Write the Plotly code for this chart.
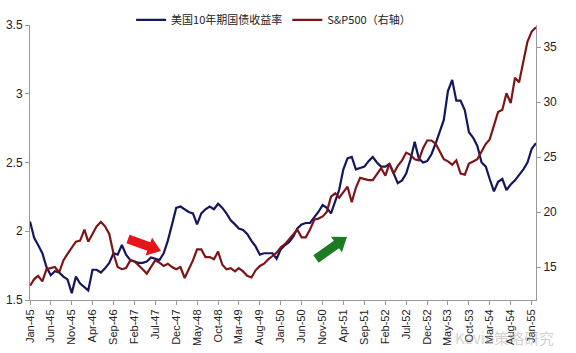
import math
import pandas as pd
import plotly.graph_objects as go

# Monthly data Jan-1945 .. Feb-1955
months = pd.date_range("1945-01-01", periods=122, freq="MS")

yield_10y = [
    2.07, 1.95, 1.90, 1.84, 1.74, 1.68, 1.71, 1.70, 1.67, 1.65,
    1.55, 1.67, 1.62, 1.59, 1.57, 1.72, 1.72, 1.70, 1.73, 1.77,
    1.84, 1.83, 1.90, 1.83, 1.79, 1.78, 1.77, 1.77, 1.78, 1.81,
    1.80, 1.79, 1.84, 1.93, 2.05, 2.17, 2.18, 2.16, 2.14, 2.13,
    2.05, 2.13, 2.16, 2.18, 2.16, 2.20, 2.17, 2.13, 2.08, 2.05,
    2.02, 2.01, 1.98, 1.93, 1.89, 1.83, 1.84, 1.84, 1.84, 1.80,
    1.87, 1.90, 1.92, 1.96, 2.02, 2.05, 2.06, 2.06, 2.10, 2.14,
    2.19, 2.17, 2.13, 2.22, 2.30, 2.45, 2.53, 2.54, 2.45, 2.46,
    2.47, 2.51, 2.54, 2.50, 2.47, 2.47, 2.49, 2.42, 2.35, 2.37,
    2.42, 2.52, 2.65, 2.53, 2.50, 2.51, 2.56, 2.64, 2.72, 2.81,
    3.02, 3.10, 2.95, 2.95, 2.88, 2.72, 2.68, 2.62, 2.50, 2.47,
    2.38, 2.29, 2.36, 2.38, 2.30, 2.34, 2.37, 2.41, 2.45, 2.50,
    2.60, 2.64,
]

sp500 = [
    13.3, 13.9, 14.2, 13.7, 14.8, 14.9, 15.0, 14.5, 15.6, 16.2,
    16.8, 17.3, 17.4, 18.4, 17.3, 18.0, 18.7, 19.1, 18.7, 18.0,
    16.2, 15.0, 14.8, 14.9, 15.6, 15.5, 15.2, 14.8, 14.4, 15.0,
    15.6, 15.4, 15.1, 15.3, 15.0, 14.8, 15.0, 14.0, 14.8, 15.6,
    16.6, 16.6, 15.9, 15.9, 15.7, 16.4, 15.2, 14.8, 14.9, 14.6,
    14.9, 14.6, 14.2, 14.05, 14.7, 15.1, 15.3, 15.7, 16.0, 16.3,
    16.8, 17.1, 17.5, 18.0, 18.4, 17.7, 17.7, 18.4, 19.3, 19.4,
    19.6, 20.0, 21.4, 21.7, 21.3, 21.8, 22.3, 20.9, 22.2, 23.1,
    23.0, 22.9, 22.9, 23.5, 24.0, 23.3, 24.4, 23.5, 24.2, 24.7,
    25.4, 25.2, 24.8, 24.7, 25.8, 26.5, 26.5, 26.2, 25.6, 24.8,
    24.6, 24.3, 24.7, 23.5, 23.4, 24.4, 24.6, 24.8, 25.5, 26.2,
    26.6, 27.8, 29.1, 29.3, 30.8, 29.9, 32.2, 31.8, 33.8, 35.5,
    36.4, 36.8,
]

tick_dates = months[::5]
tick_labels = [d.strftime("%b-%y") for d in tick_dates]

name_yield = "美国10年期国债收益率"
name_sp = "S&P500（右轴）"

# Layout geometry (pixels)
W, H = 576, 353
ML, MR, MT, MB = 30, 40, 25, 53
PW, PH = W - ML - MR, H - MT - MB

fig = go.Figure()
fig.add_trace(go.Scatter(x=months, y=yield_10y, name=name_yield, mode="lines",
                         line=dict(color="#16165e", width=2.2)))
fig.add_trace(go.Scatter(x=months, y=sp500, name=name_sp, mode="lines", yaxis="y2",
                         line=dict(color="#7d1517", width=2.2)))


def to_paper(px, py):
    return (px - ML) / PW, (H - MB - py) / PH


def block_arrow(tail, tip, bw, hw, hl, color):
    x0, y0 = tail
    x1, y1 = tip
    dx, dy = x1 - x0, y1 - y0
    L = math.hypot(dx, dy)
    ux, uy = dx / L, dy / L
    nx, ny = -uy, ux
    bx, by = x1 - ux * hl, y1 - uy * hl
    pts = [
        (x0 + nx * bw, y0 + ny * bw),
        (bx + nx * bw, by + ny * bw),
        (bx + nx * hw, by + ny * hw),
        (x1, y1),
        (bx - nx * hw, by - ny * hw),
        (bx - nx * bw, by - ny * bw),
        (x0 - nx * bw, y0 - ny * bw),
    ]
    path = ""
    for i, (px, py) in enumerate(pts):
        X, Y = to_paper(px, py)
        path += ("M" if i == 0 else "L") + f"{X:.4f},{Y:.4f} "
    path += "Z"
    return dict(type="path", xref="paper", yref="paper", path=path,
                fillcolor=color, line=dict(width=0), layer="above")


shapes = [
    block_arrow((128, 239), (161, 251), 4.5, 9.5, 13, "#e8141b"),
    block_arrow((316, 259), (347, 237), 4.5, 9.5, 13, "#1c7a22"),
]

axis_font = dict(family="Liberation Sans, Arial, sans-serif", size=12, color="#222")

fig.update_layout(
    width=W, height=H,
    margin=dict(l=ML, r=MR, t=MT, b=MB, pad=0, autoexpand=False),
    paper_bgcolor="white", plot_bgcolor="white",
    showlegend=True,
    legend=dict(orientation="h", x=0.475, xanchor="center", xref="container",
                y=0.985, yanchor="top", yref="container",
                font=dict(family="Noto Sans CJK SC, sans-serif", size=11, color="#222"),
                itemwidth=30, bgcolor="rgba(0,0,0,0)", tracegroupgap=0),
    xaxis=dict(range=[months[0], months[-1]], tickvals=list(tick_dates), ticktext=tick_labels,
               tickangle=-90, showgrid=False, zeroline=False, automargin=False,
               showline=True, linecolor="#999", linewidth=1,
               ticks="outside", ticklen=4, tickcolor="#999",
               tickfont=dict(family="Liberation Sans, Arial, sans-serif", size=11, color="#222")),
    yaxis=dict(range=[1.5, 3.5], dtick=0.5, showgrid=False, zeroline=False, automargin=False,
               showline=True, linecolor="#999", linewidth=1,
               ticks="outside", ticklen=4, tickcolor="#999", tickfont=axis_font),
    yaxis2=dict(range=[12, 37], dtick=5, overlaying="y", side="right", automargin=False,
                showgrid=False, zeroline=False,
                showline=True, linecolor="#999", linewidth=1,
                ticks="outside", ticklen=4, tickcolor="#999", tickfont=axis_font),
    shapes=shapes,
    annotations=[dict(text="Kevin策略研究", xref="paper", yref="paper",
                      x=1.04, y=-0.09, xanchor="right", yanchor="top", showarrow=False,
                      font=dict(family="Noto Sans CJK SC, sans-serif", size=15,
                                color="rgba(170,170,170,0.55)"))],
)

fig.write_html("out.html")
